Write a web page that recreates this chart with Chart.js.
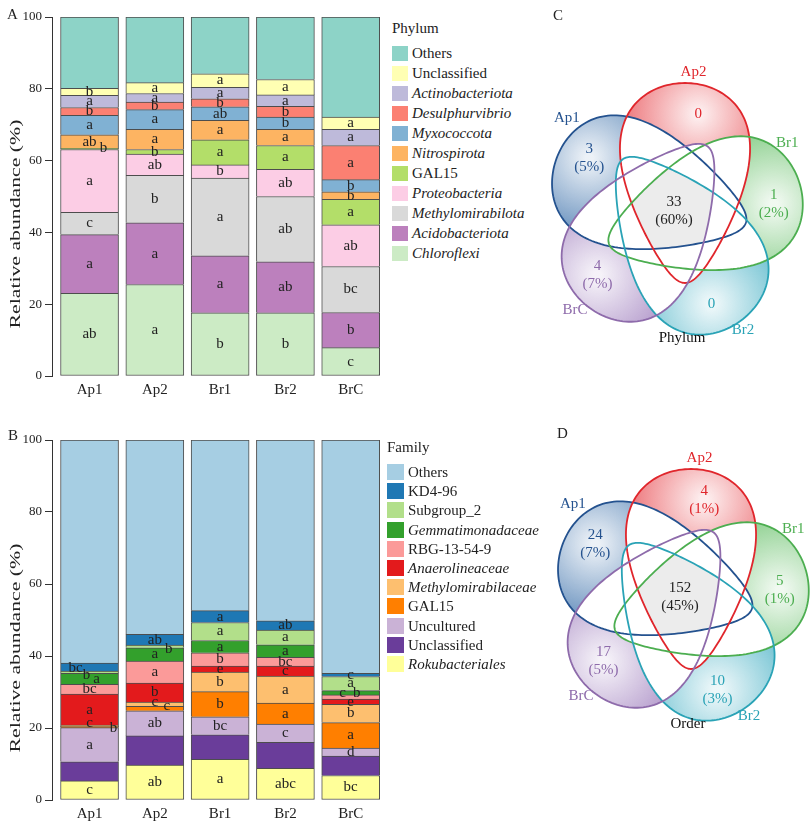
<!DOCTYPE html>
<html>
<head>
<meta charset="utf-8">
<script src="https://cdn.jsdelivr.net/npm/chart.js@4.4.1/dist/chart.umd.min.js"></script>
<style>
  body { margin: 0; background: #fff; font-family: "Liberation Serif", "Times New Roman", serif; color: #222; }
  #page { position: relative; width: 812px; height: 826px; overflow: hidden; }
  canvas, .tag, .legend { position: absolute; }
  .tag { font-size: 15px; line-height: 15px; }
  .legend { font-size: 15px; line-height: 16px; white-space: nowrap; }
  .legend div { position: absolute; }
</style>
</head>
<body>
<div id="page">
  <canvas id="barA" width="390" height="410" style="left:0;top:0"></canvas>
  <canvas id="barB" width="390" height="406" style="left:0;top:420px"></canvas>
  <div id="legA" class="legend" style="left:392px;top:0"></div>
  <div id="legB" class="legend" style="left:387px;top:420px"></div>
  <canvas id="vennC" width="292" height="410" style="left:520px;top:0"></canvas>
  <canvas id="vennD" width="292" height="416" style="left:520px;top:410px"></canvas>
  <div class="tag" style="left:7px;top:7px">A</div>
  <div class="tag" style="left:8px;top:428px">B</div>
  <div class="tag" style="left:553px;top:8px">C</div>
  <div class="tag" style="left:557px;top:426px">D</div>
</div>
<script>
const FONT = '"Liberation Serif", "Times New Roman", serif';
const groups = ["Ap1", "Ap2", "Br1", "Br2", "BrC"];

// ---- panel A, phylum (bottom of the stack first) ----
const phylumNames = ["Chloroflexi", "Acidobacteriota", "Methylomirabilota", "Proteobacteria", "GAL15",
  "Nitrospirota", "Myxococcota", "Desulphurvibrio", "Actinobacteriota", "Unclassified", "Others"];
const chloroflexi       = [23.0, 25.5, 17.6, 17.6, 7.9];
const acidobacteriota   = [16.4, 17.2, 15.9, 14.2, 9.8];
const methylomirabilota = [6.2, 13.2, 21.6, 18.2, 12.8];
const proteobacteria    = [17.5, 5.9, 3.7, 7.6, 11.6];
const gal15Phylum       = [0.3, 1.3, 7.0, 6.6, 7.1];
const nitrospirota      = [3.8, 5.6, 5.4, 4.5, 2.1];
const myxococcota       = [5.4, 5.5, 3.8, 3.4, 3.4];
const desulphurvibrio   = [2.2, 2.1, 2.2, 3.0, 9.5];
const actinobacteriota  = [3.4, 2.4, 3.2, 3.2, 4.5];
const unclassPhylum     = [1.9, 3.0, 3.8, 4.3, 3.4];
const othersPhylum      = [19.9, 18.3, 15.8, 17.4, 27.9];
const phylumLetters = [
  ["ab", "a", "b", "b", "c"],
  ["a", "a", "a", "ab", "b"],
  ["c", "b", "a", "ab", "bc"],
  ["a", "ab", "b", "ab", "ab"],
  ["b", "b", "a", "a", "a"],
  ["ab", "a", "a", "a", "b"],
  ["a", "a", "ab", "b", "b"],
  ["b", "b", "b", "b", "a"],
  ["a", "a", "a", "a", "a"],
  ["b", "a", "a", "a", "a"],
  []
];

// ---- panel B, family ----
const familyNames = ["Rokubacteriales", "Unclassified", "Uncultured", "GAL15", "Methylomirabilaceae",
  "Anaerolineaceae", "RBG-13-54-9", "Gemmatimonadaceae", "Subgroup_2", "KD4-96", "Others"];
const rokubacteriales     = [5.3, 9.7, 11.3, 8.8, 6.8];
const unclassFamily       = [5.3, 8.1, 6.8, 7.2, 5.4];
const uncultured          = [9.5, 7.0, 5.0, 5.1, 2.2];
const gal15Family         = [0.3, 1.2, 7.0, 5.8, 7.1];
const methylomirabilaceae = [0.4, 1.2, 5.4, 7.5, 5.1];
const anaerolineaceae     = [8.6, 5.3, 1.7, 2.8, 1.4];
const rbg13549            = [2.7, 6.1, 3.7, 2.4, 1.2];
const gemmatimonadaceae   = [3.1, 3.7, 3.4, 3.5, 1.2];
const subgroup2           = [0.6, 0.7, 5.0, 4.1, 3.9];
const kd496               = [2.2, 3.0, 3.3, 2.6, 0.9];
const othersFamily        = [62.0, 54.0, 47.4, 50.2, 64.8];
const familyLetters = [
  ["c", "ab", "a", "abc", "bc"],
  [],
  ["a", "ab", "bc", "c", "d"],
  ["b", "c", "b", "a", "a"],
  ["c", "c", "b", "a", "b"],
  ["a", "b", "e", "c", "e"],
  ["bc", "a", "b", "bc", "b"],
  ["a", "a", "a", "a", "c"],
  ["b", "b", "a", "a", "a"],
  ["bc", "ab", "a", "ab", "c"],
  []
];

// ---- Venn counts ----
const vennSets = ["Ap1", "Ap2", "Br1", "Br2", "BrC"];
const phylumUnique = [3, 0, 1, 0, 4];
const phylumUniquePct = ["5%", "", "2%", "", "7%"];
const phylumCore = [33, "60%"];
const orderUnique = [24, 4, 5, 10, 17];
const orderUniquePct = ["7%", "1%", "1%", "3%", "5%"];
const orderCore = [152, "45%"];

// styles
const phylumColors = ["#ccebc5", "#bc80bd", "#d9d9d9", "#fccde5", "#b3de69", "#fdb462",
  "#80b1d3", "#fb8072", "#bebada", "#ffffb3", "#8dd3c7"];
const phylumItalic = [1, 1, 1, 1, 0, 1, 1, 1, 1, 0, 0];
const familyColors = ["#ffff99", "#6a3d9a", "#cab2d6", "#ff7f00", "#fdbf6f", "#e31a1c",
  "#fb9a99", "#33a02c", "#b2df8a", "#1f78b4", "#a6cee3"];
const familyItalic = [1, 0, 0, 0, 1, 1, 0, 1, 0, 0, 0];
const vennLine = ["#24528f", "#e0262c", "#4cae50", "#2aa3b6", "#8e6bab"];
const vennFill = ["70,120,175", "232,80,86", "110,195,112", "75,178,198", "160,128,190"];
const vennAngles = [288, 0, 72, 144, 216];
const nameAngle = [23, 8, -13, 6, 9];
const nameR = [142, 140, 132, 138, 140];

function barChart(id, names, values, colors, letters, shifts, padTop, axisH, titleY) {
  const datasets = names.map((n, i) => ({
    label: n,
    data: values[i].map((v, j) => ({ x: j + 1, y: v })),
    backgroundColor: colors[i],
    borderColor: "#4d4d4d",
    borderWidth: { top: 1, left: 1, right: 1, bottom: i === 0 ? 1 : 0 },
    borderSkipped: false,
    barThickness: 58
  }));

  const letterPlugin = {
    id: "letters",
    afterDatasetsDraw(chart) {
      const ctx = chart.ctx;
      ctx.save();
      ctx.font = "15px " + FONT;
      ctx.fillStyle = "#222";
      ctx.textAlign = "center";
      ctx.textBaseline = "middle";
      chart.data.datasets.forEach((ds, i) => {
        chart.getDatasetMeta(i).data.forEach((bar, j) => {
          const txt = letters[i][j];
          if (!txt) return;
          const sh = shifts[ds.label + "|" + groups[j]] || [0, 0];
          ctx.fillText(txt, bar.x + sh[0], (bar.y + bar.base) / 2 + sh[1]);
        });
      });
      ctx.restore();
    }
  };

  const yTitle = {
    id: "ytitle",
    afterDraw(chart) {
      const ctx = chart.ctx;
      ctx.save();
      ctx.translate(16, titleY);
      ctx.rotate(-Math.PI / 2);
      ctx.scale(1.45, 1);
      ctx.font = "15px " + FONT;
      ctx.fillStyle = "#222";
      ctx.textAlign = "center";
      ctx.textBaseline = "middle";
      ctx.fillText("Relative abundance (%)", 0, 0);
      ctx.restore();
    }
  };

  return new Chart(document.getElementById(id), {
    type: "bar",
    data: { datasets },
    options: {
      responsive: false,
      animation: false,
      layout: { padding: { top: padTop, right: 6, left: 0, bottom: 0 } },
      plugins: { legend: { display: false }, tooltip: { enabled: false } },
      scales: {
        x: {
          type: "linear", min: 0.425, max: 5.51, stacked: true, offset: false,
          grid: { display: false, drawTicks: false, offset: false },
          border: { display: false },
          afterBuildTicks: s => { s.ticks = groups.map((g, i) => ({ value: i + 1 })); },
          afterFit: s => { s.height = axisH; },
          ticks: {
            callback: v => groups[v - 1],
            autoSkip: false, maxRotation: 0,
            font: { family: FONT, size: 15 }, color: "#222", padding: 5
          }
        },
        y: {
          min: 0, max: 100, stacked: true,
          afterFit: s => { s.width = 52; },
          grid: { drawOnChartArea: false, tickLength: 7, color: "#333" },
          border: { color: "#333", width: 1 },
          ticks: { stepSize: 20, font: { family: FONT, size: 13 }, color: "#222", padding: 3 }
        }
      }
    },
    plugins: [letterPlugin, yTitle]
  });
}

function legend(id, title, names, colors, italic, sw, rowH, firstY) {
  const box = document.getElementById(id);
  let html = `<div style="left:0;top:${firstY - 33}px">${title}</div>`;
  for (let k = names.length - 1, r = 0; k >= 0; k--, r++) {
    const cy = firstY + r * rowH;
    html += `<div style="left:0;top:${cy - sw[1] / 2}px;width:${sw[0]}px;height:${sw[1]}px;background:${colors[k]}"></div>`;
    html += `<div style="left:${sw[0] + 4}px;top:${cy - 8}px;${italic[k] ? "font-style:italic" : ""}">${names[k]}</div>`;
  }
  box.innerHTML = html;
}

function venn(id, cx, cy, unique, pct, core, caption) {
  const geo = vennSets.map((s, i) => {
    const phi = vennAngles[i] * Math.PI / 180;
    const dir = [Math.sin(phi), -Math.cos(phi)];
    const perp = [Math.cos(phi), Math.sin(phi)];
    return { dir, perp, sx: cx + 28 * dir[0] + 11 * perp[0], sy: cy + 28 * dir[1] + 11 * perp[1] };
  });
  const pts = vennSets.map((s, i) => {
    const a = (vennAngles[i] + 14) * Math.PI / 180;
    return { x: cx + 100 * Math.sin(a), y: cy - 100 * Math.cos(a) };
  });
  pts.push({ x: cx, y: cy });

  function egg(ctx, g, xs, ys) {
    ctx.beginPath();
    for (let n = 0; n <= 180; n++) {
      const t = n / 180 * 2 * Math.PI;
      const u = 100 * Math.cos(t);
      const v = 60 * Math.sin(t) * (1 + 0.45 * Math.cos(t));
      const px = xs.getPixelForValue(g.sx + u * g.dir[0] + v * g.perp[0]);
      const py = ys.getPixelForValue(g.sy + u * g.dir[1] + v * g.perp[1]);
      if (n) ctx.lineTo(px, py); else ctx.moveTo(px, py);
    }
    ctx.closePath();
  }

  const shapes = {
    id: "vennShapes",
    beforeDatasetsDraw(chart) {
      const ctx = chart.ctx, xs = chart.scales.x, ys = chart.scales.y;
      const W = chart.width, H = chart.height;
      geo.forEach((g, i) => {
        ctx.save();
        egg(ctx, g, xs, ys);
        ctx.clip();
        const px = xs.getPixelForValue(pts[i].x), py = ys.getPixelForValue(pts[i].y);
        const grad = ctx.createRadialGradient(px, py, 4, px, py, 72);
        grad.addColorStop(0, `rgba(${vennFill[i]},0.1)`);
        grad.addColorStop(1, `rgba(${vennFill[i]},0.75)`);
        ctx.fillStyle = grad;
        ctx.fillRect(0, 0, W, H);
        geo.forEach((o, j) => {
          if (j === i) return;
          egg(ctx, o, xs, ys);
          ctx.fillStyle = "#fff";
          ctx.fill();
        });
        ctx.restore();
      });
      ctx.save();
      geo.forEach(g => { egg(ctx, g, xs, ys); ctx.clip(); });
      ctx.fillStyle = "#ececec";
      ctx.fillRect(0, 0, W, H);
      ctx.restore();
      geo.forEach((g, i) => {
        egg(ctx, g, xs, ys);
        ctx.lineWidth = 1.8;
        ctx.strokeStyle = vennLine[i];
        ctx.stroke();
      });
    },
    afterDatasetsDraw(chart) {
      const ctx = chart.ctx, xs = chart.scales.x, ys = chart.scales.y;
      ctx.save();
      ctx.font = "15px " + FONT;
      ctx.textAlign = "center";
      ctx.textBaseline = "middle";
      chart.getDatasetMeta(0).data.forEach((p, i) => {
        const isCore = i === vennSets.length;
        const num = isCore ? core[0] : unique[i];
        const pc = isCore ? core[1] : pct[i];
        ctx.fillStyle = isCore ? "#222" : vennLine[i];
        if (pc) {
          ctx.fillText(String(num), p.x, p.y - 9);
          ctx.fillText("(" + pc + ")", p.x, p.y + 9);
        } else {
          ctx.fillText(String(num), p.x, p.y);
        }
      });
      vennSets.forEach((s, i) => {
        const a = (vennAngles[i] + nameAngle[i]) * Math.PI / 180;
        ctx.fillStyle = vennLine[i];
        ctx.fillText(s, xs.getPixelForValue(cx + nameR[i] * Math.sin(a)),
          ys.getPixelForValue(cy - nameR[i] * Math.cos(a)));
      });
      ctx.fillStyle = "#111";
      ctx.fillText(caption, xs.getPixelForValue(cx + 8), ys.getPixelForValue(cy + 127));
      ctx.restore();
    }
  };

  const cv = document.getElementById(id);
  return new Chart(cv, {
    type: "scatter",
    data: { datasets: [{ data: pts, pointRadius: 0 }] },
    options: {
      responsive: false,
      animation: false,
      layout: { padding: 0 },
      plugins: { legend: { display: false }, tooltip: { enabled: false } },
      scales: {
        x: { display: false, min: 0, max: cv.width },
        y: { display: false, min: 0, max: cv.height, reverse: true }
      }
    },
    plugins: [shapes]
  });
}

barChart("barA", phylumNames,
  [chloroflexi, acidobacteriota, methylomirabilota, proteobacteria, gal15Phylum, nitrospirota,
   myxococcota, desulphurvibrio, actinobacteriota, unclassPhylum, othersPhylum],
  phylumColors, phylumLetters, { "GAL15|Ap1": [14, -1] }, 17, 34, 224);

barChart("barB", familyNames,
  [rokubacteriales, unclassFamily, uncultured, gal15Family, methylomirabilaceae, anaerolineaceae,
   rbg13549, gemmatimonadaceae, subgroup2, kd496, othersFamily],
  familyColors, familyLetters,
  { "GAL15|Ap1": [24, 1], "Methylomirabilaceae|Ap1": [0, -3], "KD4-96|Ap1": [-14, 1],
    "Subgroup_2|Ap1": [-3, 3], "Gemmatimonadaceae|Ap1": [7, 0],
    "Subgroup_2|Ap2": [14, 3], "GAL15|Ap2": [12, -2], "Methylomirabilaceae|Ap2": [0, -2],
    "Gemmatimonadaceae|BrC": [-8, 0], "RBG-13-54-9|BrC": [6, -4] },
  20, 26, 228);

legend("legA", "Phylum", phylumNames, phylumColors, phylumItalic, [16, 15], 20, 53);
legend("legB", "Family", familyNames, familyColors, familyItalic, [17, 16], 19.2, 52);

venn("vennC", 154, 211, phylumUnique, phylumUniquePct, phylumCore, "Phylum");
venn("vennD", 160, 187, orderUnique, orderUniquePct, orderCore, "Order");
</script>
</body>
</html>
